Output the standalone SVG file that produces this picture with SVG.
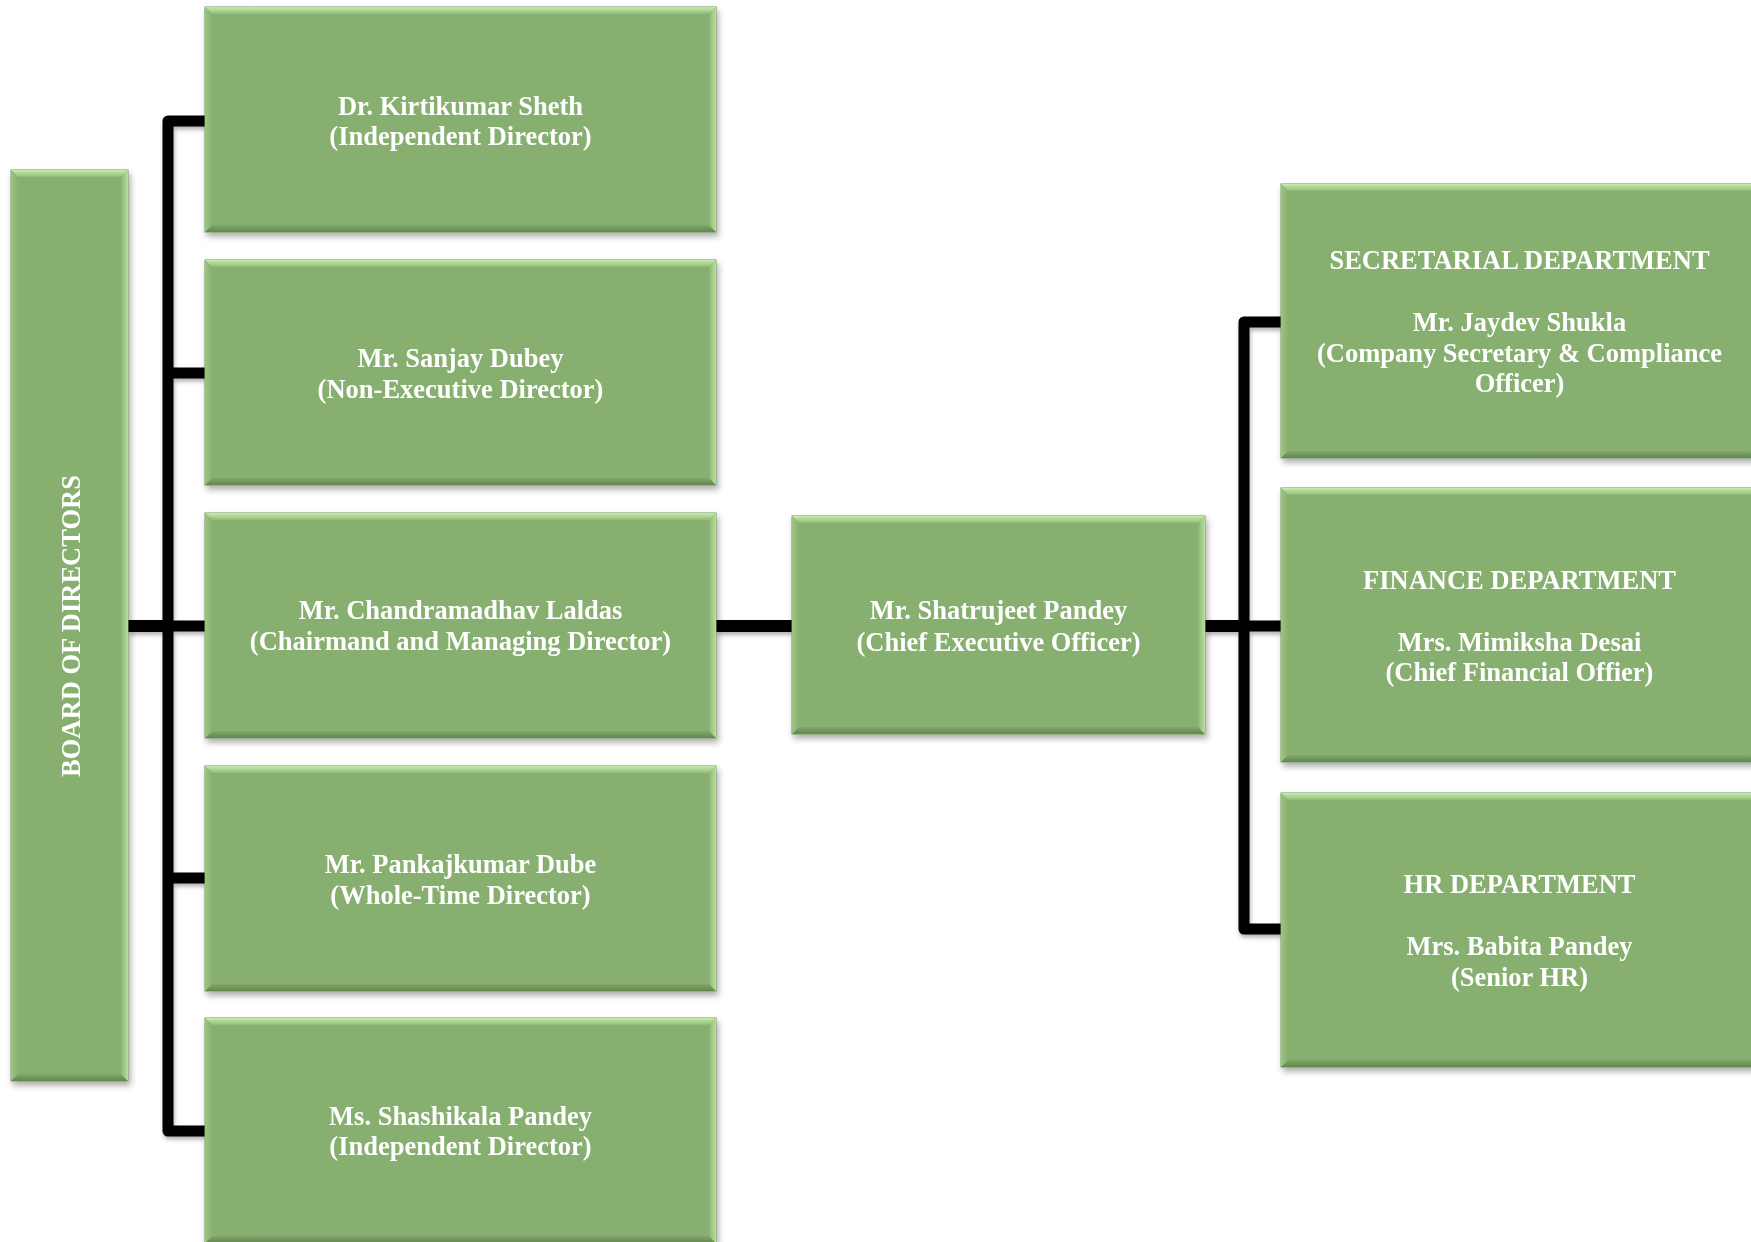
<svg xmlns="http://www.w3.org/2000/svg" width="1751" height="1242" viewBox="0 0 1751 1242">
<defs>
<filter id="sh" x="-5%" y="-5%" width="115%" height="115%">
<feDropShadow dx="2" dy="4" stdDeviation="3" flood-color="#000" flood-opacity="0.33"/>
</filter>
<filter id="lsh" x="-5%" y="-5%" width="115%" height="115%">
<feDropShadow dx="1" dy="3" stdDeviation="2" flood-color="#000" flood-opacity="0.3"/>
</filter>
<linearGradient id="gt" x1="0" y1="0" x2="0" y2="1"><stop offset="0" stop-color="#C6ECAA"/><stop offset="1" stop-color="#92BB7A"/></linearGradient>
<linearGradient id="gb" x1="0" y1="0" x2="0" y2="1"><stop offset="0" stop-color="#80A86B"/><stop offset="1" stop-color="#63864F"/></linearGradient>
<linearGradient id="gl" x1="0" y1="0" x2="1" y2="0"><stop offset="0" stop-color="#9CC582"/><stop offset="1" stop-color="#88B171"/></linearGradient>
<linearGradient id="gr" x1="0" y1="0" x2="1" y2="0"><stop offset="0" stop-color="#8CB575"/><stop offset="1" stop-color="#B8E09C"/></linearGradient>
</defs>
<style>
.base{fill:#86AF6F;stroke:#6F955B;stroke-width:1}
.bt{fill:url(#gt)}
.bb{fill:url(#gb)}
.bl{fill:url(#gl)}
.br{fill:url(#gr)}
.t{fill:#FFFFFF;font-family:"Liberation Serif","Times New Roman",serif;font-weight:bold;font-size:26.5px;text-anchor:middle}
.c{fill:none;stroke:#000;stroke-width:11;stroke-linejoin:round}
</style>
<rect width="1751" height="1242" fill="#FFFFFF"/>
<g id="connectors" filter="url(#lsh)">
<path class="c" d="M205,121 H168 V1131 H205"/>
<path class="c" d="M168,373 H205"/>
<path class="c" d="M168,626 H205"/>
<path class="c" d="M168,878 H205"/>
<path class="c" d="M128,626 H168" style="stroke-width:12"/>
<path class="c" d="M716,626 H792" style="stroke-width:12"/>
<path class="c" d="M1205,626 H1244" style="stroke-width:12"/>
<path class="c" d="M1281,322 H1244 V929 H1281"/>
<path class="c" d="M1244,626 H1281"/>
</g>
<g id="board" filter="url(#sh)">
<rect class="base" x="11" y="170" width="117" height="911"/>
<polygon class="bt" points="11,170 128,170 121,177 18,177"/>
<polygon class="bb" points="11,1081 128,1081 121,1074 18,1074"/>
<polygon class="bl" points="11,170 18,177 18,1074 11,1081"/>
<polygon class="br" points="128,170 121,177 121,1074 128,1081"/>
<text class="t" transform="translate(80,626) rotate(-90)">BOARD OF DIRECTORS</text>
</g>
<g id="kirtikumar" filter="url(#sh)">
<rect class="base" x="205" y="7" width="511" height="225"/>
<polygon class="bt" points="205,7 716,7 709,14 212,14"/>
<polygon class="bb" points="205,232 716,232 709,225 212,225"/>
<polygon class="bl" points="205,7 212,14 212,225 205,232"/>
<polygon class="br" points="716,7 709,14 709,225 716,232"/>
<text class="t" x="460.5" y="115">Dr. Kirtikumar Sheth</text>
<text class="t" x="460.5" y="145">(Independent Director)</text>
</g>
<g id="sanjay" filter="url(#sh)">
<rect class="base" x="205" y="260" width="511" height="225"/>
<polygon class="bt" points="205,260 716,260 709,267 212,267"/>
<polygon class="bb" points="205,485 716,485 709,478 212,478"/>
<polygon class="bl" points="205,260 212,267 212,478 205,485"/>
<polygon class="br" points="716,260 709,267 709,478 716,485"/>
<text class="t" x="460.5" y="367">Mr. Sanjay Dubey</text>
<text class="t" x="460.5" y="398">(Non-Executive Director)</text>
</g>
<g id="chandramadhav" filter="url(#sh)">
<rect class="base" x="205" y="513" width="511" height="225"/>
<polygon class="bt" points="205,513 716,513 709,520 212,520"/>
<polygon class="bb" points="205,738 716,738 709,731 212,731"/>
<polygon class="bl" points="205,513 212,520 212,731 205,738"/>
<polygon class="br" points="716,513 709,520 709,731 716,738"/>
<text class="t" x="460.5" y="619">Mr. Chandramadhav Laldas</text>
<text class="t" x="460.5" y="650">(Chairmand and Managing Director)</text>
</g>
<g id="pankajkumar" filter="url(#sh)">
<rect class="base" x="205" y="766" width="511" height="225"/>
<polygon class="bt" points="205,766 716,766 709,773 212,773"/>
<polygon class="bb" points="205,991 716,991 709,984 212,984"/>
<polygon class="bl" points="205,766 212,773 212,984 205,991"/>
<polygon class="br" points="716,766 709,773 709,984 716,991"/>
<text class="t" x="460.5" y="873">Mr. Pankajkumar Dube</text>
<text class="t" x="460.5" y="904">(Whole-Time Director)</text>
</g>
<g id="shashikala" filter="url(#sh)">
<rect class="base" x="205" y="1018" width="511" height="225"/>
<polygon class="bt" points="205,1018 716,1018 709,1025 212,1025"/>
<polygon class="bb" points="205,1243 716,1243 709,1236 212,1236"/>
<polygon class="bl" points="205,1018 212,1025 212,1236 205,1243"/>
<polygon class="br" points="716,1018 709,1025 709,1236 716,1243"/>
<text class="t" x="460.5" y="1125">Ms. Shashikala Pandey</text>
<text class="t" x="460.5" y="1155">(Independent Director)</text>
</g>
<g id="ceo" filter="url(#sh)">
<rect class="base" x="792" y="516" width="413" height="218"/>
<polygon class="bt" points="792,516 1205,516 1198,523 799,523"/>
<polygon class="bb" points="792,734 1205,734 1198,727 799,727"/>
<polygon class="bl" points="792,516 799,523 799,727 792,734"/>
<polygon class="br" points="1205,516 1198,523 1198,727 1205,734"/>
<text class="t" x="998.5" y="619">Mr. Shatrujeet Pandey</text>
<text class="t" x="998.5" y="651">(Chief Executive Officer)</text>
</g>
<g id="secretarial" filter="url(#sh)">
<rect class="base" x="1281" y="184" width="477" height="274"/>
<polygon class="bt" points="1281,184 1758,184 1751,191 1288,191"/>
<polygon class="bb" points="1281,458 1758,458 1751,451 1288,451"/>
<polygon class="bl" points="1281,184 1288,191 1288,451 1281,458"/>
<text class="t" x="1519.5" y="269">SECRETARIAL DEPARTMENT</text>
<text class="t" x="1519.5" y="331">Mr. Jaydev Shukla</text>
<text class="t" x="1519.5" y="362">(Company Secretary &amp; Compliance</text>
<text class="t" x="1519.5" y="392">Officer)</text>
</g>
<g id="finance" filter="url(#sh)">
<rect class="base" x="1281" y="488" width="477" height="274"/>
<polygon class="bt" points="1281,488 1758,488 1751,495 1288,495"/>
<polygon class="bb" points="1281,762 1758,762 1751,755 1288,755"/>
<polygon class="bl" points="1281,488 1288,495 1288,755 1281,762"/>
<text class="t" x="1519.5" y="589">FINANCE DEPARTMENT</text>
<text class="t" x="1519.5" y="651">Mrs. Mimiksha Desai</text>
<text class="t" x="1519.5" y="681">(Chief Financial Offier)</text>
</g>
<g id="hr" filter="url(#sh)">
<rect class="base" x="1281" y="793" width="477" height="274"/>
<polygon class="bt" points="1281,793 1758,793 1751,800 1288,800"/>
<polygon class="bb" points="1281,1067 1758,1067 1751,1060 1288,1060"/>
<polygon class="bl" points="1281,793 1288,800 1288,1060 1281,1067"/>
<text class="t" x="1519.5" y="893">HR DEPARTMENT</text>
<text class="t" x="1519.5" y="955">Mrs. Babita Pandey</text>
<text class="t" x="1519.5" y="986">(Senior HR)</text>
</g>
</svg>
